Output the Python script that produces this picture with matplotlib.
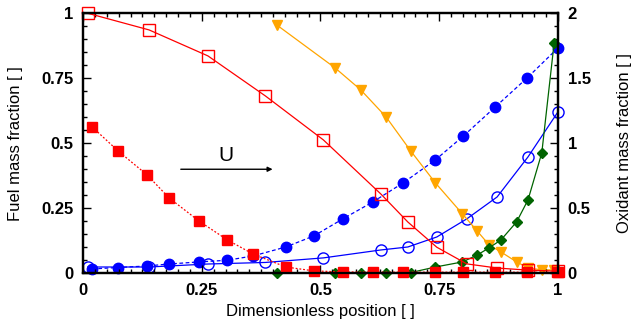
import numpy as np
import matplotlib.pyplot as plt
from matplotlib.ticker import MultipleLocator

plt.rcParams['font.family'] = ['Liberation Sans', 'DejaVu Sans']

# sample positions
x_open = [0.01, 0.139, 0.263, 0.384, 0.506, 0.627, 0.684, 0.745, 0.808, 0.872, 0.937, 1.0]
x_fill = [0.019, 0.074, 0.135, 0.181, 0.244, 0.304, 0.358, 0.427, 0.486, 0.547,
          0.61, 0.674, 0.742, 0.801, 0.868, 0.935, 1.0]
x_tail = [0.408, 0.531, 0.585, 0.638, 0.69, 0.742, 0.799, 0.83, 0.855, 0.88,
          0.913, 0.937, 0.966, 0.992]

# fuel (left axis)
fuel_open = [1.0, 0.936, 0.836, 0.682, 0.513, 0.305, 0.197, 0.10, 0.036, 0.02, 0.012, 0.008]
fuel_fill = [0.563, 0.47, 0.378, 0.29, 0.201, 0.128, 0.074, 0.024, 0.009, 0.005,
             0.004, 0.004, 0.004, 0.004, 0.004, 0.004, 0.004]

# oxidant (right axis)
oxid_open = [0.048, 0.048, 0.071, 0.083, 0.118, 0.179, 0.202, 0.279, 0.418, 0.587, 0.895, 1.241]
oxid_fill = [0.033, 0.044, 0.056, 0.071, 0.087, 0.10, 0.133, 0.202, 0.287, 0.418,
             0.548, 0.695, 0.872, 1.056, 1.279, 1.502, 1.733]
oxid_tri = [1.91, 1.579, 1.41, 1.203, 0.941, 0.695, 0.456, 0.325, 0.218, 0.164,
            0.087, 0.041, 0.026, 0.026]
oxid_dia = [0.004, 0.005, 0.005, 0.005, 0.005, 0.048, 0.087, 0.14, 0.195, 0.256,
            0.395, 0.564, 0.925, 1.771]

fig = plt.figure(figsize=(6.34, 3.32), dpi=100)
ax = fig.add_axes([0.131, 0.177, 0.749, 0.783])
ax2 = ax.twinx()
ax.set_zorder(ax2.get_zorder() + 1)
ax.patch.set_visible(False)

ax2.plot(x_open, oxid_open, '-', color='blue', lw=0.9, marker='o', ms=8,
         mfc='none', mec='blue', mew=1.0, clip_on=False)
ax2.plot(x_fill, oxid_fill, color='blue', lw=0.9, ls=(0, (3, 2)), marker='o', ms=7.5,
         mfc='blue', mec='blue', clip_on=False)
ax2.plot(x_tail, oxid_tri, '-', color='orange', lw=0.9, marker='v', ms=7,
         mfc='orange', mec='orange', clip_on=False)
ax2.plot(x_tail, oxid_dia, '-', color='darkgreen', lw=0.9, marker='D', ms=5,
         mfc='darkgreen', mec='darkgreen', clip_on=False)

ax.plot(x_open, fuel_open, '-', color='red', lw=0.9, marker='s', ms=8.5,
        mfc='none', mec='red', mew=1.0, clip_on=False)
ax.plot(x_fill, fuel_fill, color='red', lw=0.9, ls=(0, (1.5, 1.5)), marker='s', ms=7,
        mfc='red', mec='red', clip_on=False)

# flow direction
ax.annotate('', xy=(0.405, 0.40), xytext=(0.2, 0.40),
            arrowprops=dict(arrowstyle='-|>', color='black', lw=1.0,
                            mutation_scale=7))
ax.text(0.3, 0.415, 'U', fontsize=15, ha='center', va='bottom')

ax.set_xlim(0, 1)
ax.set_ylim(0, 1)
ax2.set_ylim(0, 2)

ax.xaxis.set_major_locator(MultipleLocator(0.25))
ax.xaxis.set_minor_locator(MultipleLocator(0.025))
ax.yaxis.set_major_locator(MultipleLocator(0.25))
ax.yaxis.set_minor_locator(MultipleLocator(0.05))
ax2.yaxis.set_major_locator(MultipleLocator(0.5))
ax2.yaxis.set_minor_locator(MultipleLocator(0.1))

ax.set_xticks([0, 0.25, 0.5, 0.75, 1])
ax.set_xticklabels(['0', '0.25', '0.5', '0.75', '1'])
ax.set_yticks([0, 0.25, 0.5, 0.75, 1])
ax.set_yticklabels(['0', '0.25', '0.5', '0.75', '1'])
ax2.set_yticks([0, 0.5, 1, 1.5, 2])
ax2.set_yticklabels(['0', '0.5', '1', '1.5', '2'])

ax.tick_params(axis='x', which='both', direction='in', top=True, labelsize=12, pad=7)
ax.tick_params(axis='y', which='both', direction='in', right=False, labelsize=12, pad=7)
ax2.tick_params(axis='y', which='both', direction='in', labelsize=12, pad=7)
for a in (ax, ax2):
    a.tick_params(which='major', length=6, width=1)
    a.tick_params(which='minor', length=3, width=1)
    for lab in a.get_xticklabels() + a.get_yticklabels():
        lab.set_fontweight('bold')
    for s in a.spines.values():
        s.set_linewidth(1.6)

ax.set_xlabel('Dimensionless position [ ]', fontsize=12, labelpad=4)
ax.set_ylabel('Fuel mass fraction [ ]', fontsize=12, labelpad=13)
ax2.set_ylabel('Oxidant mass fraction [ ]', fontsize=12, labelpad=19)

fig.savefig('out.png', dpi=100)
